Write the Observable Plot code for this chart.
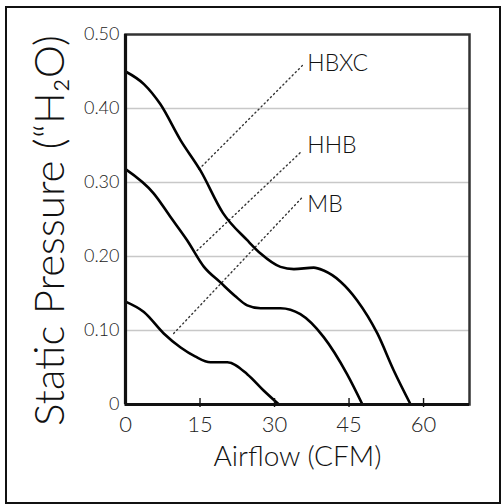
<!DOCTYPE html>
<html>
<head>
<meta charset="utf-8">
<script src="https://cdn.jsdelivr.net/npm/d3@7"></script>
<script src="https://cdn.jsdelivr.net/npm/@observablehq/plot@0.6"></script>
<style>
  html, body { margin: 0; padding: 0; background: #fff; }
  #wrap { position: relative; width: 502px; height: 504px; }
  #border { position: absolute; left: 5px; top: 6px; width: 492px; height: 494px; border: 2px solid #111; pointer-events: none; }
</style>
</head>
<body>
<div id="wrap"><div id="border"></div></div>
<script>
const hbxcX = [0, 3.7, 7.0, 11.1, 15.1, 19.6, 24.5, 27.2, 31.2, 33.9, 37.9, 39.9, 43.3, 46.6, 50.7, 54.0, 57.4];
const hbxcY = [0.450, 0.433, 0.406, 0.357, 0.316, 0.259, 0.222, 0.204, 0.186, 0.183, 0.185, 0.181, 0.166, 0.141, 0.096, 0.046, 0];
const hhbX = [0, 5.7, 9.1, 12.4, 15.8, 19.1, 22.0, 24.5, 27.2, 31.2, 35.2, 39.9, 44.6, 47.7];
const hhbY = [0.318, 0.285, 0.253, 0.222, 0.186, 0.165, 0.147, 0.134, 0.130, 0.130, 0.122, 0.091, 0.041, 0];
const mbX = [0, 3.7, 7.7, 11.1, 14.0, 17.1, 20.5, 24.5, 27.8, 30.9];
const mbY = [0.139, 0.125, 0.096, 0.077, 0.065, 0.057, 0.057, 0.041, 0.019, 0];

const seriesNames = ["HBXC", "HHB", "MB"];
const leaderX1 = [14.8, 14.4, 9.7];
const leaderY1 = [0.318, 0.208, 0.096];
const leaderX2 = [35.6, 35.6, 35.6];
const leaderY2 = [0.458, 0.343, 0.280];
const labelX = [36.6, 36.6, 36.6];
const labelY = [0.461, 0.350, 0.270];

const xTicks = [0, 15, 30, 45, 60];
const yTicks = [0, 0.1, 0.2, 0.3, 0.4, 0.5];
const yGrid = [0.1, 0.2, 0.3, 0.4];
const xTitle = "Airflow (CFM)";
const yTitle = "Static Pressure (\u201CH\u2082O)";

const curves = [
  ...hbxcX.map((x, i) => ({s: "HBXC", x, y: hbxcY[i]})),
  ...hhbX.map((x, i) => ({s: "HHB", x, y: hhbY[i]})),
  ...mbX.map((x, i) => ({s: "MB", x, y: mbY[i]}))
];
const leaders = seriesNames.map((s, i) => ({s, x1: leaderX1[i], y1: leaderY1[i], x2: leaderX2[i], y2: leaderY2[i], lx: labelX[i], ly: labelY[i]}));

const font = "Lato, 'Noto Sans', sans-serif";

const chart = Plot.plot({
  width: 502,
  height: 504,
  marginLeft: 125,
  marginTop: 34,
  marginRight: 33,
  marginBottom: 100,
  style: {fontFamily: font, background: "transparent", overflow: "visible", fontWeight: 300},
  x: {domain: [0, 69.25]},
  y: {domain: [0, 0.5]},
  marks: [
    Plot.ruleY(yGrid, {stroke: "#c8c8c8", strokeWidth: 1.5}),
    Plot.link(leaders, {x1: "x1", y1: "y1", x2: "x2", y2: "y2", stroke: "#333", strokeWidth: 1.4, strokeDasharray: "1.2,3.2", strokeLinecap: "round"}),
    Plot.line(curves, {x: "x", y: "y", z: "s", curve: "monotone-x", stroke: "#000", strokeWidth: 2.6}),
    Plot.text(leaders, {x: "lx", y: "ly", text: "s", textAnchor: "start", fontSize: 23, fontWeight: 300, fill: "#111"}),
    Plot.frame({stroke: "#333", strokeWidth: 2.5}),
    Plot.ruleX([0], {stroke: "#111", strokeWidth: 3.2}),
    Plot.ruleY([0], {stroke: "#111", strokeWidth: 3.2}),
    Plot.axisY({ticks: yTicks, tickSize: 0, tickPadding: 6, fontSize: 18, fontWeight: 300, label: null,
      tickFormat: d => d === 0 ? "0" : d3.format(".2f")(d), fill: "#222"}),
    Plot.axisX({ticks: xTicks, tickSize: 0, tickPadding: 12, fontSize: 22, fontWeight: 300, label: null, fill: "#222"}),
    Plot.axisX({ticks: xTicks.slice(1), tickSize: 9, dy: -6, fill: "none", stroke: "#111", strokeWidth: 1.4, label: null}),
    Plot.text([xTitle], {frameAnchor: "bottom", textAnchor: "middle", lineAnchor: "middle", dy: 53, fontSize: 28, fontWeight: 300, fill: "#111"}),
    Plot.text([yTitle], {frameAnchor: "left", textAnchor: "middle", lineAnchor: "middle", rotate: -90, dx: -75, dy: 11, fontSize: 42, fontWeight: 300, fill: "#111"})
  ]
});
document.getElementById("wrap").prepend(chart);
</script>
</body>
</html>
